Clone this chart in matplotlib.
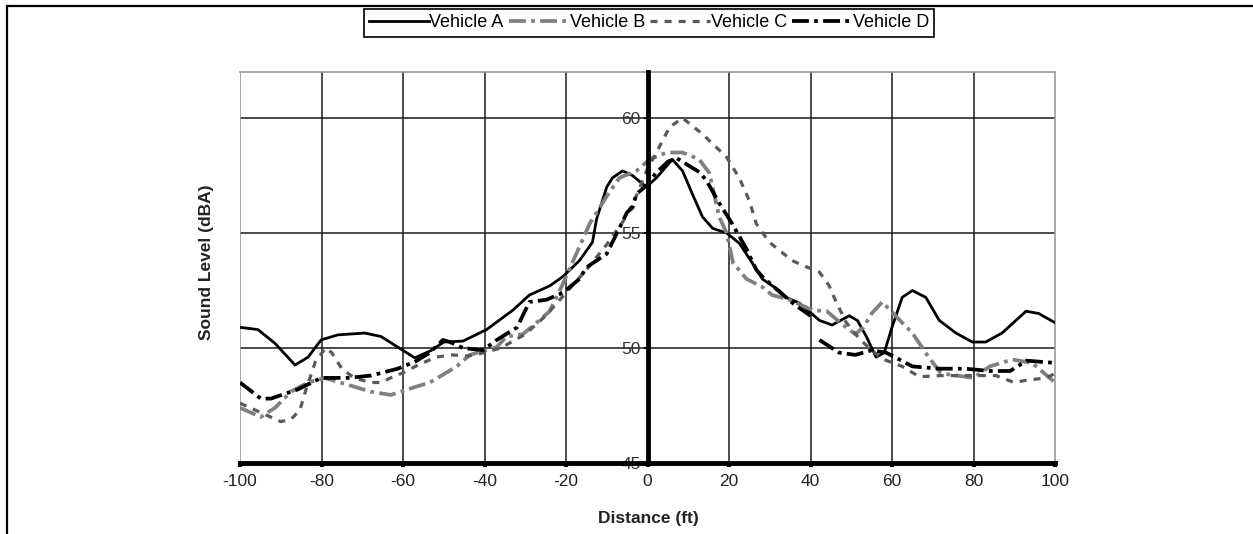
import numpy as np
import matplotlib
matplotlib.use("Agg")
import matplotlib.pyplot as plt
from matplotlib.patches import Rectangle

plt.rcParams["font.family"] = ["Liberation Sans", "DejaVu Sans"]

# =========================
# Pass-by sound level per vehicle
# =========================
a_x = [-100, -95.6, -91.4, -86.5, -83.3, -80.1, -76, -69.4, -65.4, -61.3, -57.1, -53, -50,
       -45.3, -39.5, -33, -29, -24, -20.8, -16.7, -13.5, -12.5, -10, -8.6, -6.1, -3.7, -0.3,
       2.2, 6.1, 8.6, 11, 13.5, 16, 19.4, 22.5, 25.7, 28.2, 32.3, 34, 37.3, 42.2, 45.3, 49.5,
       51.5, 53.7, 56.1, 58.1, 60, 62.5, 65, 68.3, 71.6, 75.7, 79.7, 83, 87, 92.9, 96, 100]
a_y = [50.9, 50.8, 50.2, 49.26, 49.6, 50.35, 50.57, 50.65, 50.5, 50.04, 49.57, 49.9, 50.26,
       50.3, 50.8, 51.65, 52.3, 52.7, 53.1, 53.8, 54.6, 55.6, 57.0, 57.4, 57.7, 57.5, 57.0,
       57.4, 58.2, 57.7, 56.7, 55.7, 55.2, 55.0, 54.56, 53.7, 53.0, 52.5, 52.2, 51.95, 51.2,
       51.0, 51.4, 51.2, 50.5, 49.6, 49.8, 50.9, 52.2, 52.5, 52.2, 51.2, 50.65, 50.26, 50.26,
       50.65, 51.6, 51.5, 51.1]

b_x = [-100, -94.9, -91.4, -87.5, -83.3, -79.2, -73.5, -67.9, -63, -57.1, -53.4, -46.8, -43.6,
       -37, -34.6, -30.6, -27.2, -24, -21, -16.7, -14.2, -10, -6.9, -2.7, 0.5, 4.7, 8.6, 12.7,
       15.2, 17.6, 19.4, 21, 24.3, 28.2, 30.6, 34.8, 40.4, 44, 48, 51, 53, 55, 57.6, 62.5, 65,
       69, 72, 80, 84, 89.5, 94.4, 100]
b_y = [47.4, 47.0, 47.4, 48.1, 48.5, 48.7, 48.4, 48.1, 47.96, 48.3, 48.5, 49.2, 49.7,
       50.04, 50.5, 50.6, 51.1, 51.6, 52.7, 54.4, 55.4, 56.6, 57.4, 57.7, 58.2, 58.5, 58.5, 58.2,
       57.6, 55.7, 55.0, 53.7, 53.0, 52.65, 52.3, 52.1, 51.65, 51.6, 51.0, 50.6, 50.9, 51.5,
       52.0, 51.1, 50.65, 49.6, 48.9, 48.7, 49.2, 49.5, 49.35, 48.5]

c_x = [-100, -95, -90, -87.5, -85.3, -83.8, -81.5, -79, -77.5, -75, -72, -68, -65.5, -63, -59,
       -57, -52, -48, -44, -40, -36, -30, -25, -20, -15, -10, -6, -3, 0, 2.2, 5.4, 8.6, 13.5,
       19.4, 22.5, 25, 26.7, 29.9, 35.5, 38, 42.2, 44.6, 46.3, 48.8, 52, 55, 58, 62.5, 66.7,
       72, 80, 85.5, 90, 93, 98, 100]
c_y = [47.6, 47.2, 46.8, 46.9, 47.3, 48.2, 49.4, 50.0, 49.8, 49.1, 48.7, 48.5, 48.5, 48.7, 49.0,
       49.2, 49.6, 49.7, 49.65, 49.8, 50.0, 50.6, 51.4, 52.4, 53.4, 54.5, 55.5, 56.5, 57.8, 58.5,
       59.6, 60.0, 59.3, 58.3, 57.4, 56.4, 55.4, 54.6, 53.8, 53.6, 53.3, 52.7, 52.0, 51.1, 50.4,
       49.9, 49.5, 49.2, 48.75, 48.8, 48.8, 48.8, 48.5, 48.6, 48.7, 48.9]

d_x = [-100, -94.9, -92.4, -85.8, -80.1, -73.5, -67.9, -61.3, -57.1, -53.4, -50.2, -48.5, -45.3,
       -40.4, -37, -32, -29, -24.8, -20.8, -16.7, -15, -10, -5, -3.7, -2.7, 0, 2, 5, 7.1, 12.7,
       14.4, 17.6, 20.8, 24.3, 26.7, 28.2, 32, 36, 40, 41, 42.2, 47, 51, 55, 58.5, 61.8, 65,
       71.6, 78, 84, 89, 93, 100]
d_y = [48.5, 47.8, 47.8, 48.2, 48.7, 48.7, 48.8, 49.1, 49.4, 49.8, 50.35, 50.26, 50.0,
       49.9, 50.35, 50.9, 52.0, 52.1, 52.4, 53.0, 53.5, 54.1, 55.9, 56.1, 56.7, 57.1, 57.6, 58.1,
       58.26, 57.65, 57.3, 56.3, 55.4, 54.3, 53.4, 53.1, 52.5, 51.9, 51.4, np.nan, 50.35, 49.8,
       49.7, 49.9, 49.8, 49.5, 49.2, 49.1, 49.1, 49.0, 49.0, 49.45, 49.35]

x_ticks = [-100, -80, -60, -40, -20, 0, 20, 40, 60, 80, 100]
y_ticks = [45, 50, 55, 60]

# =========================
# Figure
# =========================
fig = plt.figure(figsize=(12.53, 5.34), dpi=100)
W, H = 1253, 534
ax = fig.add_axes([240 / W, 1 - 463 / H, 815 / W, 391 / H])
ax.set_xlim(-100, 100)
ax.set_ylim(45, 62)

# inner grid, drawn by hand so the outer edges stay grey
for gx in x_ticks[1:-1]:
    ax.axvline(gx, color="#1a1a1a", lw=1.1, zorder=1)
for gy in y_ticks[1:]:
    ax.axhline(gy, color="#1a1a1a", lw=1.1, zorder=1)
ax.axvline(-100, color="#999999", lw=1.2, zorder=1)

line_kw = dict(solid_joinstyle="round", dash_joinstyle="round", zorder=3)
ax.plot(a_x, a_y, color="black", lw=2.0, label="Vehicle A", **line_kw)
ax.plot(b_x, b_y, color="#808080", lw=2.7, dashes=(4.5, 1.4, 1.0, 1.4),
        label="Vehicle B", **line_kw)
ax.plot(c_x, c_y, color="#5a5a5a", lw=2.3, dashes=(2.2, 2.2), label="Vehicle C", **line_kw)
ax.plot(d_x, d_y, color="black", lw=2.7, dashes=(4.5, 1.4, 1.0, 1.4),
        label="Vehicle D", **line_kw)

# axes: y axis crosses at x = 0, x axis along the bottom
ax.spines["left"].set_position(("data", 0))
ax.spines["left"].set_linewidth(3.5)
ax.spines["left"].set_zorder(4)
ax.spines["bottom"].set_linewidth(3.5)
ax.spines["bottom"].set_zorder(4)
for side in ["top", "right"]:
    ax.spines[side].set_color("#999999")
    ax.spines[side].set_linewidth(1.2)

ax.set_xticks(x_ticks)
ax.set_xticklabels([str(t) for t in x_ticks])
ax.set_yticks(y_ticks)
ax.set_yticklabels([str(t) for t in y_ticks])
ax.tick_params(axis="x", direction="out", length=3, width=3, pad=5,
               labelsize=12.5, labelcolor="#222222")
ax.tick_params(axis="y", direction="out", length=3, width=1.5, pad=2,
               labelsize=12.5, labelcolor="#333333")

fig.text(207 / W, 1 - 262 / H, "Sound Level (dBA)", rotation=90, ha="center",
         va="center", fontsize=12.5, fontweight="bold", color="#222222")
fig.text(648 / W, 1 - 518 / H, "Distance (ft)", ha="center", va="center",
         fontsize=12.5, fontweight="bold", color="#222222")

leg = fig.legend(loc="upper center", bbox_to_anchor=(649 / W, 1 - 9 / H), ncol=4,
                 frameon=True, fancybox=False, edgecolor="black", framealpha=1,
                 handlelength=3.3, handletextpad=0.05, columnspacing=0.3,
                 borderpad=0.3, borderaxespad=0, fontsize=13)
leg.get_frame().set_linewidth(1.2)

# page frame along the top and left edges
fig.add_artist(Rectangle((7 / W, -0.2), 1.5, 1.2 - 6 / H, transform=fig.transFigure,
                         fill=False, edgecolor="black", lw=1.6))

fig.savefig("out.png", dpi=100)
